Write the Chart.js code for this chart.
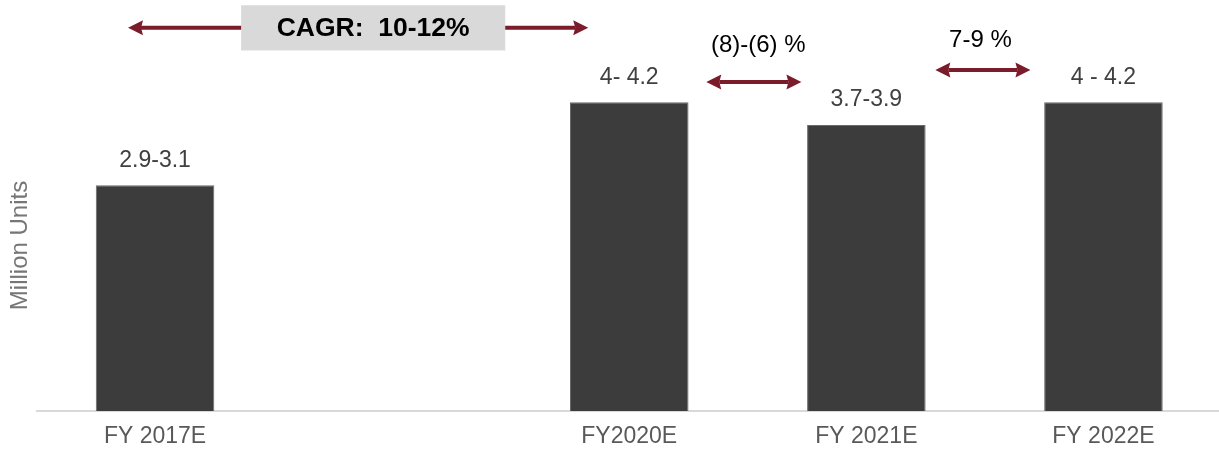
<!DOCTYPE html>
<html>
<head>
<meta charset="utf-8">
<script src="https://cdn.jsdelivr.net/npm/chart.js@4/dist/chart.umd.min.js"></script>
<style>
  html, body { margin: 0; padding: 0; background: #fff; overflow: hidden; }
  #wrap { width: 1222px; height: 454px; position: relative; }
</style>
</head>
<body>
<div id="wrap"><canvas id="c"></canvas></div>
<script>
// Sales volume outlook (million units), shown as low-high ranges
const categories = ['FY 2017E', '', 'FY2020E', 'FY 2021E', 'FY 2022E'];
const rangeLow   = [2.9, null, 4.0, 3.7, 4.0];
const rangeHigh  = [3.1, null, 4.2, 3.9, 4.2];
const rangeLabels = ['2.9-3.1', '', '4- 4.2', '3.7-3.9', '4 - 4.2'];

// Bars stand at the middle of each range
const midValues = rangeLow.map((lo, i) => lo === null ? null : (lo + rangeHigh[i]) / 2);

// Growth callouts: arrow span in category units, arrow height / text height in axis units
const growthNotes = [
  { text: '(8)-(6) %', from: 2.325, to: 2.726, textAt: 2.544, arrowY: 4.37, textY: 4.86 },
  { text: '7-9 %',     from: 3.291, to: 3.692, textAt: 3.481, arrowY: 4.53, textY: 4.93 }
];
const cagrNote = { text: 'CAGR:  10-12%', from: -0.114, to: 1.827, boxFrom: 0.363, boxTo: 1.477,
                   textAt: 0.92, arrowY: 5.09, boxTop: 5.39, boxBottom: 4.79 };

const ARROW = '#7b1c2a';
const FONT = '"Liberation Sans", Arial, sans-serif';

function drawArrow(ctx, x1, x2, y) {
  const head = 15, half = 7.5;
  ctx.save();
  ctx.strokeStyle = ARROW;
  ctx.fillStyle = ARROW;
  ctx.lineWidth = 4;
  ctx.beginPath();
  ctx.moveTo(x1 + head - 2, y);
  ctx.lineTo(x2 - head + 2, y);
  ctx.stroke();
  ctx.beginPath();
  ctx.moveTo(x1, y);
  ctx.lineTo(x1 + head, y - half);
  ctx.lineTo(x1 + head - 2, y);
  ctx.lineTo(x1 + head, y + half);
  ctx.closePath();
  ctx.fill();
  ctx.beginPath();
  ctx.moveTo(x2, y);
  ctx.lineTo(x2 - head, y - half);
  ctx.lineTo(x2 - head + 2, y);
  ctx.lineTo(x2 - head, y + half);
  ctx.closePath();
  ctx.fill();
  ctx.restore();
}

const overlay = {
  id: 'overlay',
  afterDatasetsDraw(chart) {
    const ctx = chart.ctx;
    const xs = chart.scales.x, ys = chart.scales.y;
    const area = chart.chartArea;

    // Range labels above bars
    const meta = chart.getDatasetMeta(0);
    ctx.save();
    ctx.font = '23px ' + FONT;
    ctx.fillStyle = '#404040';
    ctx.textAlign = 'center';
    ctx.textBaseline = 'middle';
    meta.data.forEach((bar, i) => {
      if (midValues[i] === null) return;
      ctx.fillText(rangeLabels[i], bar.x, bar.y - 25);
    });
    ctx.restore();

    // Axis title
    ctx.save();
    ctx.font = '24px ' + FONT;
    ctx.fillStyle = '#767676';
    ctx.textAlign = 'center';
    ctx.textBaseline = 'middle';
    ctx.translate(20, (area.top + area.bottom) / 2 + 40);
    ctx.rotate(-Math.PI / 2);
    ctx.fillText('Million Units', 0, 0);
    ctx.restore();

    // CAGR arrow with label box
    const cy = ys.getPixelForValue(cagrNote.arrowY);
    drawArrow(ctx, xs.getPixelForValue(cagrNote.from), xs.getPixelForValue(cagrNote.to), cy);
    const bx1 = xs.getPixelForValue(cagrNote.boxFrom), bx2 = xs.getPixelForValue(cagrNote.boxTo);
    const by1 = ys.getPixelForValue(cagrNote.boxTop), by2 = ys.getPixelForValue(cagrNote.boxBottom);
    ctx.save();
    ctx.fillStyle = '#d9d9d9';
    ctx.fillRect(bx1, by1, bx2 - bx1, by2 - by1);
    ctx.font = 'bold 26.5px ' + FONT;
    ctx.fillStyle = '#000';
    ctx.textAlign = 'center';
    ctx.textBaseline = 'middle';
    ctx.fillText(cagrNote.text, xs.getPixelForValue(cagrNote.textAt), (by1 + by2) / 2 + 1);
    ctx.restore();

    // Year-on-year growth arrows
    growthNotes.forEach(n => {
      drawArrow(ctx, xs.getPixelForValue(n.from), xs.getPixelForValue(n.to), ys.getPixelForValue(n.arrowY));
      ctx.save();
      ctx.font = '24px ' + FONT;
      ctx.fillStyle = '#000';
      ctx.textAlign = 'center';
      ctx.textBaseline = 'middle';
      ctx.fillText(n.text, xs.getPixelForValue(n.textAt), ys.getPixelForValue(n.textY));
      ctx.restore();
    });
  }
};

new Chart(document.getElementById('c'), {
  type: 'bar',
  data: {
    labels: categories,
    datasets: [{
      data: midValues,
      backgroundColor: '#3c3c3c',
      borderColor: '#6a6a6a',
      borderWidth: 1,
      barPercentage: 0.5,
      categoryPercentage: 1.0
    }]
  },
  options: {
    responsive: true,
    maintainAspectRatio: false,
    animation: false,
    layout: { padding: { left: 36.5, right: 0, top: 0, bottom: 0 } },
    plugins: { legend: { display: false }, tooltip: { enabled: false } },
    scales: {
      x: {
        grid: { display: false, drawTicks: false },
        border: { display: true, color: '#d9d9d9', width: 2 },
        ticks: { color: '#595959', font: { family: FONT, size: 23 }, padding: 12 },
        afterFit(scale) { scale.height = 43; }
      },
      y: { display: false, min: 0, max: 5.46 }
    }
  },
  plugins: [overlay]
});
</script>
</body>
</html>
